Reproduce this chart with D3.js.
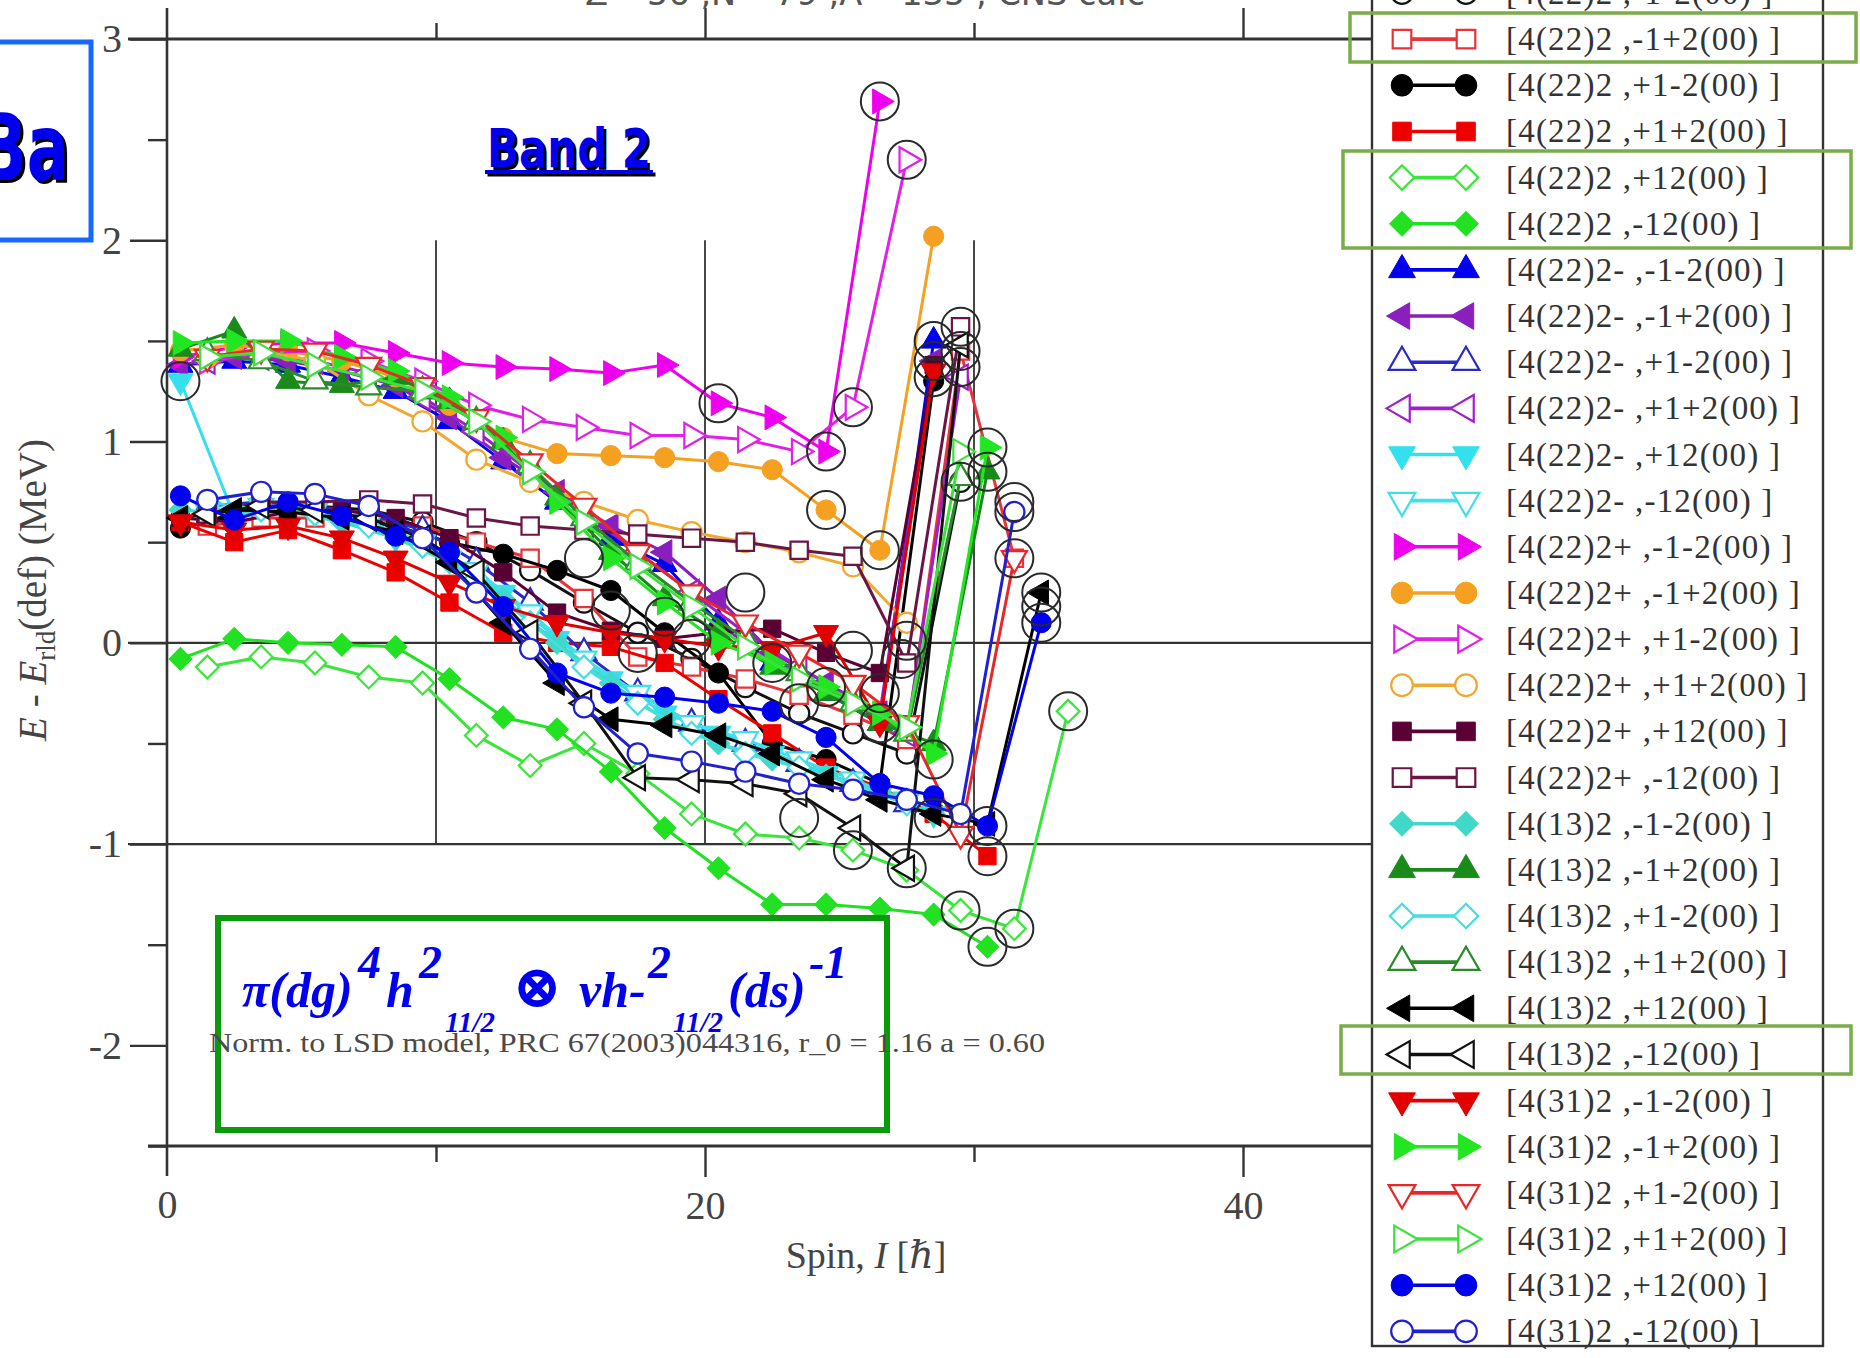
<!DOCTYPE html>
<html>
<head>
<meta charset="utf-8">
<script src="https://cdn.jsdelivr.net/npm/d3@7"></script>
<style>
  html, body { margin: 0; padding: 0; background: #fff; overflow: hidden; }
  svg { display: block; }
</style>
</head>
<body>
<svg id="chart" width="1860" height="1358"></svg>
<script>
// ---- Band configurations (legend order) ----
const bandLabels = [
  "[4(22)2 ,-1-2(00) ]", "[4(22)2 ,-1+2(00) ]", "[4(22)2 ,+1-2(00) ]", "[4(22)2 ,+1+2(00) ]",
  "[4(22)2 ,+12(00) ]",  "[4(22)2 ,-12(00) ]",  "[4(22)2- ,-1-2(00) ]", "[4(22)2- ,-1+2(00) ]",
  "[4(22)2- ,+1-2(00) ]", "[4(22)2- ,+1+2(00) ]", "[4(22)2- ,+12(00) ]", "[4(22)2- ,-12(00) ]",
  "[4(22)2+ ,-1-2(00) ]", "[4(22)2+ ,-1+2(00) ]", "[4(22)2+ ,+1-2(00) ]", "[4(22)2+ ,+1+2(00) ]",
  "[4(22)2+ ,+12(00) ]", "[4(22)2+ ,-12(00) ]", "[4(13)2 ,-1-2(00) ]", "[4(13)2 ,-1+2(00) ]",
  "[4(13)2 ,+1-2(00) ]", "[4(13)2 ,+1+2(00) ]", "[4(13)2 ,+12(00) ]", "[4(13)2 ,-12(00) ]",
  "[4(31)2 ,-1-2(00) ]", "[4(31)2 ,-1+2(00) ]", "[4(31)2 ,+1-2(00) ]", "[4(31)2 ,+1+2(00) ]",
  "[4(31)2 ,+12(00) ]", "[4(31)2 ,-12(00) ]"
];

// First spin of each band; spins then advance in steps of 2 hbar
const startSpin = [1.5, 1.5, 0.5, 0.5, 1.5, 0.5, 0.5, 0.5, 1.5, 1.5, 0.5, 1.5, 0.5, 0.5, 1.5,
                   1.5, 0.5, 1.5, 0.5, 0.5, 1.5, 1.5, 0.5, 1.5, 0.5, 0.5, 1.5, 1.5, 0.5, 1.5];

// E - E_rld(def) in MeV for successive spins of each band
const e00 = [0.60, 0.70, 0.68, 0.66, 0.60, 0.50, 0.36, 0.20, 0.05, -0.08, -0.22, -0.35, -0.45, -0.55, 0.80];
const e01 = [0.58, 0.62, 0.62, 0.62, 0.58, 0.50, 0.42, 0.22, -0.07, -0.12, -0.18, -0.26, -0.36, -0.48, 1.45, 0.42];
const e02 = [0.57, 0.63, 0.66, 0.62, 0.58, 0.50, 0.44, 0.36, 0.26, 0.05, -0.15, -0.50, -0.58, -0.70, 1.30];
const e03 = [0.60, 0.50, 0.56, 0.46, 0.35, 0.20, 0.05, 0.00, -0.02, -0.10, -0.28, -0.45, -0.62, -0.72, -0.85, -1.06];
const e04 = [-0.12, -0.07, -0.10, -0.17, -0.20, -0.46, -0.61, -0.50, -0.65, -0.85, -0.95, -0.97, -1.03, -1.13, -1.33, -1.42, -0.34];
const e05 = [-0.08, 0.02, 0.00, -0.01, -0.02, -0.18, -0.37, -0.43, -0.64, -0.92, -1.12, -1.30, -1.30, -1.32, -1.35, -1.51];
const e06 = [1.38, 1.40, 1.38, 1.32, 1.25, 1.10, 0.90, 0.70, 0.52, 0.39, 0.10, -0.10, -0.25, -0.40, 1.50];
const e07 = [1.38, 1.42, 1.40, 1.35, 1.28, 1.12, 0.92, 0.75, 0.58, 0.45, 0.22, -0.05, -0.20, -0.35, 1.40];
const e08 = [0.68, 0.70, 0.68, 0.64, 0.56, 0.40, 0.20, -0.05, -0.25, -0.40, -0.50, -0.60, -0.70, -0.80];
const e09 = [1.40, 1.42, 1.40, 1.34, 1.22, 1.05, 0.85, 0.65, 0.45, 0.25, 0.05, -0.12, -0.28, -0.45, 1.32];
const e10 = [1.30, 0.63, 0.65, 0.60, 0.52, 0.42, 0.25, 0.02, -0.18, -0.35, -0.45, -0.55, -0.65, -0.75, -0.85];
const e11 = [0.66, 0.68, 0.66, 0.60, 0.50, 0.36, 0.15, -0.08, -0.25, -0.40, -0.48, -0.58, -0.68, -0.78];
const e12 = [1.42, 1.47, 1.49, 1.49, 1.44, 1.39, 1.37, 1.36, 1.34, 1.38, 1.19, 1.12, 0.95, 2.69];
const e13 = [1.45, 1.48, 1.45, 1.40, 1.32, 1.18, 1.02, 0.94, 0.93, 0.92, 0.90, 0.86, 0.66, 0.46, 2.02];
const e14 = [1.40, 1.44, 1.45, 1.40, 1.30, 1.18, 1.11, 1.07, 1.03, 1.03, 1.01, 0.95, 1.17, 2.40];
const e15 = [1.42, 1.45, 1.40, 1.23, 1.10, 0.91, 0.80, 0.70, 0.61, 0.55, 0.50, 0.45, 0.38, 0.10];
const e16 = [0.62, 0.60, 0.65, 0.66, 0.62, 0.52, 0.35, 0.15, 0.06, 0.02, 0.05, 0.07, -0.05, -0.15, 1.38];
const e17 = [0.64, 0.70, 0.70, 0.71, 0.69, 0.62, 0.58, 0.56, 0.54, 0.52, 0.50, 0.46, 0.43, -0.10, 1.57];
const e18 = [0.66, 0.64, 0.66, 0.60, 0.52, 0.40, 0.22, 0.00, -0.20, -0.38, -0.50, -0.58, -0.66, -0.74, -0.85];
const e19 = [1.46, 1.55, 1.30, 1.28, 1.32, 1.20, 1.00, 0.72, 0.45, 0.22, 0.05, -0.12, -0.25, -0.40, -0.50, 0.85];
const e20 = [0.70, 0.66, 0.64, 0.58, 0.48, 0.32, 0.10, -0.12, -0.30, -0.45, -0.55, -0.62, -0.70, -0.80];
const e21 = [1.44, 1.40, 1.30, 1.27, 1.25, 1.10, 0.88, 0.62, 0.40, 0.20, 0.02, -0.15, -0.30, -0.45, 0.82];
const e22 = [0.62, 0.66, 0.65, 0.62, 0.55, 0.40, 0.10, -0.20, -0.38, -0.41, -0.46, -0.55, -0.68, -0.78, -0.85, -0.90, 0.25];
const e23 = [0.64, 0.68, 0.66, 0.62, 0.52, 0.35, 0.05, -0.30, -0.67, -0.68, -0.70, -0.75, -0.92, -1.12, 1.48];
const e24 = [0.60, 0.56, 0.58, 0.52, 0.42, 0.30, 0.18, 0.10, 0.05, 0.02, -0.02, -0.03, 0.05, -0.40, 1.35];
const e25 = [1.49, 1.50, 1.50, 1.42, 1.35, 1.22, 1.02, 0.70, 0.42, 0.20, 0.00, -0.10, -0.22, -0.35, -0.55, 0.97];
const e26 = [1.42, 1.46, 1.45, 1.38, 1.28, 1.12, 0.90, 0.68, 0.45, 0.25, 0.10, -0.05, -0.20, -0.40, -0.95, 0.42];
const e27 = [1.42, 1.44, 1.38, 1.32, 1.25, 1.10, 0.85, 0.60, 0.38, 0.18, -0.02, -0.18, -0.30, -0.42, 0.95];
const e28 = [0.73, 0.61, 0.70, 0.63, 0.53, 0.45, 0.18, -0.15, -0.25, -0.27, -0.30, -0.34, -0.47, -0.70, -0.76, -0.91, 0.10];
const e29 = [0.71, 0.75, 0.74, 0.68, 0.52, 0.25, -0.03, -0.32, -0.55, -0.59, -0.64, -0.70, -0.73, -0.78, -0.85, 0.65];

const energies = [e00, e01, e02, e03, e04, e05, e06, e07, e08, e09, e10, e11, e12, e13, e14,
                  e15, e16, e17, e18, e19, e20, e21, e22, e23, e24, e25, e26, e27, e28, e29];

// States marked with a large ring: [spin, E]
const ringedStates = [
  [0.5, 1.30], [20.5, 1.19], [24.5, 0.95], [26.5, 2.69], [27.5, 2.40], [25.5, 1.17], [24.5, 0.66], [26.5, 0.46],
  [28.5, 1.50], [29.5, 1.57], [28.5, 1.32], [29.5, 1.37], [29.5, 1.45], [28.5, 1.40],
  [30.5, 0.97], [30.5, 0.85], [29.5, 0.80], [31.5, 0.65], [31.5, 0.70], [31.5, 0.42],
  [32.5, 0.25], [32.5, 0.10], [32.5, 0.18], [33.5, -0.34], [31.5, -1.42], [30.5, -1.51], [29.5, -1.33],
  [27.5, -1.12], [25.5, -1.03], [23.5, -0.87], [30.5, -0.91], [30.5, -1.06], [28.5, -0.87], [28.5, -0.58],
  [15.5, 0.42], [16.5, 0.16], [17.5, -0.05], [18.5, 0.13], [21.5, 0.25], [25.5, -0.04], [26.5, -0.25],
  [27.5, 0.01], [26.5, -0.40], [27.3, -0.08], [22.5, -0.10], [24.5, -0.22], [19.5, 0.02], [23.5, -0.30]
];

// Axis ticks
const yMajorTicks = [-2, -1, 0, 1, 2, 3];
const yMinorTicks = [-2.5, -1.5, -0.5, 0.5, 1.5, 2.5];
const xMajorTicks = [0, 20, 40];
const xMinorTicks = [10, 30];
const gridSpins = [10, 20, 30];

// ---- Marker styling per band ----
const bandColors = [
  "#111111", "#e8333b", "#000000", "#ee0000", "#3ae63a", "#22e022", "#0000ee", "#8a1fc0",
  "#2a2ac8", "#a020c8", "#35e0ee", "#40e0ea", "#ee00ee", "#f5a020", "#e020e8", "#f0a830",
  "#5a0035", "#6a1545", "#40d8c8", "#1a8a1a", "#45dde0", "#2a8a2a", "#000000", "#111111",
  "#e00000", "#22e622", "#e82828", "#3ee03e", "#0000ee", "#2020d0"
];
const bandShapes = [
  "circle", "square", "circle", "square", "diamond", "diamond", "triUp", "triLeft",
  "triUp", "triLeft", "triDown", "triDown", "triRight", "circle", "triRight", "circle",
  "square", "square", "diamond", "triUp", "diamond", "triUp", "triLeft", "triLeft",
  "triDown", "triRight", "triDown", "triRight", "circle", "circle"
];
const bandFilled = [
  false, false, true, true, false, true, true, true,
  false, false, true, false, true, true, false, false,
  true, false, true, true, false, false, true, false,
  true, true, false, false, true, false
];

const svg = d3.select("#chart");

const x = d3.scaleLinear().domain([0, 40]).range([167, 1243]);
const y = d3.scaleLinear().domain([-2.5, 3]).range([1146, 39]);

const axisColor = "#333";
const frameRight = 1372;

// ---- frame lines ----
const frame = svg.append("g").attr("stroke", axisColor).attr("fill", "none");
frame.append("line").attr("x1", x(0)).attr("x2", x(0)).attr("y1", 8).attr("y2", 1176).attr("stroke-width", 2.6);
frame.append("line").attr("x1", 128).attr("x2", frameRight).attr("y1", y(3)).attr("y2", y(3)).attr("stroke-width", 3);
frame.append("line").attr("x1", 148).attr("x2", frameRight).attr("y1", y(-2.5)).attr("y2", y(-2.5)).attr("stroke-width", 3);
[0, -1].forEach(v => {
  frame.append("line").attr("x1", 128).attr("x2", frameRight).attr("y1", y(v)).attr("y2", y(v)).attr("stroke-width", 2.2);
});
gridSpins.forEach(s => {
  frame.append("line").attr("x1", x(s)).attr("x2", x(s)).attr("y1", y(2)).attr("y2", y(-1)).attr("stroke-width", 1.8);
});

// ---- axes ----
function styleAxis(g) {
  g.select(".domain").remove();
  g.selectAll(".tick line").attr("stroke", axisColor).attr("stroke-width", 2.4);
  g.selectAll(".tick text").attr("fill", "#444")
    .attr("font-family", "'Liberation Serif', 'DejaVu Serif', serif").attr("font-size", 40);
}
const fmt = d => String(d);

svg.append("g").attr("transform", `translate(${x(0)},0)`)
  .call(d3.axisLeft(y).tickValues(yMajorTicks).tickSize(37).tickPadding(8).tickFormat(fmt))
  .call(styleAxis);
svg.append("g").attr("transform", `translate(${x(0)},0)`)
  .call(d3.axisLeft(y).tickValues(yMinorTicks).tickSize(19).tickFormat(""))
  .call(styleAxis);
svg.append("g").attr("transform", `translate(0,${y(-2.5)})`)
  .call(d3.axisBottom(x).tickValues(xMajorTicks.filter(v => v > 0)).tickSize(31).tickPadding(14).tickFormat(fmt))
  .call(styleAxis);
svg.append("g").attr("transform", `translate(0,${y(-2.5)})`)
  .call(d3.axisBottom(x).tickValues([0]).tickSize(0).tickPadding(44).tickFormat(fmt))
  .call(styleAxis);
svg.append("g").attr("transform", `translate(0,${y(-2.5)})`)
  .call(d3.axisBottom(x).tickValues(xMinorTicks).tickSize(16).tickFormat(""))
  .call(styleAxis);
svg.append("g").attr("transform", `translate(0,${y(3)})`)
  .call(d3.axisTop(x).tickValues(xMajorTicks.filter(v => v > 0)).tickSize(31).tickFormat(""))
  .call(styleAxis);
svg.append("g").attr("transform", `translate(0,${y(3)})`)
  .call(d3.axisTop(x).tickValues(xMinorTicks).tickSize(16).tickFormat(""))
  .call(styleAxis);

// ---- axis titles ----
const serif = "'Liberation Serif', 'DejaVu Serif', serif";
const xt = svg.append("text").attr("x", 866).attr("y", 1268).attr("text-anchor", "middle")
  .attr("font-family", serif).attr("font-size", 38).attr("fill", "#444");
xt.append("tspan").text("Spin, ");
xt.append("tspan").attr("font-style", "italic").text("I");
xt.append("tspan").text(" [");
xt.append("tspan").attr("font-style", "italic").text("\u210F");
xt.append("tspan").text("]");

const yt = svg.append("text").attr("transform", "translate(46,590) rotate(-90)").attr("text-anchor", "middle")
  .attr("font-family", serif).attr("font-size", 39).attr("fill", "#444");
yt.append("tspan").attr("font-style", "italic").text("E");
yt.append("tspan").text(" - ");
yt.append("tspan").attr("font-style", "italic").text("E");
yt.append("tspan").attr("font-size", 27).attr("dy", 9).text("rld");
yt.append("tspan").attr("dy", -9).text("(def) (MeV)");

// Title line, mostly above the top edge
svg.append("text").attr("x", 865).attr("y", 5).attr("text-anchor", "middle")
  .attr("font-family", "'DejaVu Sans', sans-serif").attr("font-size", 34).attr("fill", "#555")
  .attr("textLength", 560).attr("lengthAdjust", "spacingAndGlyphs")
  .text("Z= 56 ,N= 79 ,A= 135 , CNS calc");

// ---- marker helpers ----
function markerPath(shape, size) {
  if (shape === "circle") return d3.symbol(d3.symbolCircle, size)();
  if (shape === "square" || shape === "diamond") return d3.symbol(d3.symbolSquare, size)();
  return d3.symbol(d3.symbolTriangle, size)();
}
function markerRotation(shape) {
  return { diamond: 45, triRight: 90, triDown: 180, triLeft: -90 }[shape] || 0;
}
function markerSize(shape, scale) {
  const base = shape === "circle" ? 320 : shape === "square" ? 300 : shape === "diamond" ? 260 : 270;
  return base * scale;
}

// ---- bands ----
const line = d3.line().x(d => x(d[0])).y(d => y(d[1]));
const plot = svg.append("g");
energies.forEach((es, i) => {
  const pts = es.map((e, k) => [startSpin[i] + 2 * k, e]);
  const g = plot.append("g");
  g.append("path").attr("d", line(pts)).attr("fill", "none")
    .attr("stroke", bandColors[i]).attr("stroke-width", 3).attr("stroke-linejoin", "round");
  const shape = bandShapes[i];
  g.selectAll("path.m").data(pts).join("path").attr("class", "m")
    .attr("d", markerPath(shape, markerSize(shape, 1)))
    .attr("transform", d => `translate(${x(d[0])},${y(d[1])}) rotate(${markerRotation(shape)})`)
    .attr("fill", bandFilled[i] ? bandColors[i] : "#fff")
    .attr("stroke", bandColors[i]).attr("stroke-width", bandFilled[i] ? 1 : 2.2);
});

// Rings around marked states
plot.append("g").selectAll("circle").data(ringedStates).join("circle")
  .attr("cx", d => x(d[0])).attr("cy", d => y(d[1])).attr("r", 19)
  .attr("fill", "none").attr("stroke", "#2a2a2a").attr("stroke-width", 2);

// ---- legend ----
const legend = svg.append("g");
legend.append("rect").attr("x", frameRight).attr("y", -4).attr("width", 1823 - frameRight).attr("height", 1350)
  .attr("fill", "#fff").attr("stroke", axisColor).attr("stroke-width", 2.4);
const rowY = i => -7 + i * 46.15;
bandLabels.forEach((lab, i) => {
  const ry = rowY(i);
  const shape = bandShapes[i];
  legend.append("line").attr("x1", 1402).attr("x2", 1466).attr("y1", ry).attr("y2", ry)
    .attr("stroke", bandColors[i]).attr("stroke-width", 3.6);
  [1402, 1466].forEach(mx => {
    legend.append("path").attr("d", markerPath(shape, markerSize(shape, 1.15)))
      .attr("transform", `translate(${mx},${ry}) rotate(${markerRotation(shape)})`)
      .attr("fill", bandFilled[i] ? bandColors[i] : "#fff")
      .attr("stroke", bandColors[i]).attr("stroke-width", bandFilled[i] ? 1 : 2.2);
  });
  legend.append("text").attr("x", 1506).attr("y", ry + 11)
    .attr("font-family", serif).attr("font-size", 33).attr("letter-spacing", 1.2)
    .attr("fill", "#333").text(lab);
});

// Highlight frames around selected configurations
const hl = svg.append("g").attr("fill", "none").attr("stroke", "#7aac4c").attr("stroke-width", 3.5);
hl.append("rect").attr("x", 1350).attr("y", 13).attr("width", 506).attr("height", 49);
hl.append("rect").attr("x", 1343).attr("y", 151).attr("width", 508).attr("height", 97);
hl.append("rect").attr("x", 1341).attr("y", 1026).attr("width", 510).attr("height", 48);

// ---- nucleus label ----
svg.append("rect").attr("x", -20).attr("y", 42).attr("width", 111).attr("height", 198)
  .attr("fill", "none").attr("stroke", "#1668ff").attr("stroke-width", 5);
[["#000", 3], ["#0000ee", 0]].forEach(([c, o]) => {
  svg.append("text").attr("x", 69 + o).attr("y", 180 + o).attr("text-anchor", "end")
    .attr("font-family", "'DejaVu Sans', sans-serif").attr("font-weight", "bold").attr("font-size", 92)
    .attr("textLength", 90).attr("lengthAdjust", "spacingAndGlyphs")
    .attr("fill", c).text("Ba");
});

// ---- band title ----
[["#000", 2.5], ["#0000ee", 0]].forEach(([c, o]) => {
  svg.append("text").attr("x", 487 + o).attr("y", 167 + o)
    .attr("font-family", "'DejaVu Sans', sans-serif").attr("font-weight", "bold").attr("font-size", 54)
    .attr("textLength", 164).attr("lengthAdjust", "spacingAndGlyphs").attr("fill", c).text("Band 2");
  svg.append("rect").attr("x", 485 + o).attr("y", 170 + o).attr("width", 168).attr("height", 4).attr("fill", c);
});

// ---- configuration box ----
svg.append("rect").attr("x", 218).attr("y", 918).attr("width", 669).attr("height", 212)
  .attr("fill", "none").attr("stroke", "#0a9a0a").attr("stroke-width", 6);
svg.append("text").attr("x", 209).attr("y", 1052)
  .attr("font-family", serif).attr("font-size", 27).attr("fill", "#4a4a4a")
  .attr("textLength", 836).attr("lengthAdjust", "spacingAndGlyphs")
  .text("Norm. to LSD model, PRC 67(2003)044316, r_0 = 1.16  a =  0.60");
const conf = svg.append("g").attr("font-family", serif).attr("font-style", "italic")
  .attr("font-weight", "bold").attr("fill", "#0000ee");
const confParts = [
  ["\u03C0(dg)", 242, 1007, 50], ["4", 358, 978, 46], ["h", 386, 1007, 50], ["2", 419, 978, 46],
  ["11/2", 445, 1032, 29], ["\u2297", 512, 1007, 60], ["\u03BDh-", 579, 1007, 50], ["2", 648, 978, 46],
  ["11/2", 673, 1032, 29], ["(ds)", 728, 1007, 50], ["-1", 809, 978, 46]
];
confParts.forEach(([t, px, py, fs]) => {
  conf.append("text").attr("x", px).attr("y", py).attr("font-size", fs).text(t);
});
</script>
</body>
</html>
